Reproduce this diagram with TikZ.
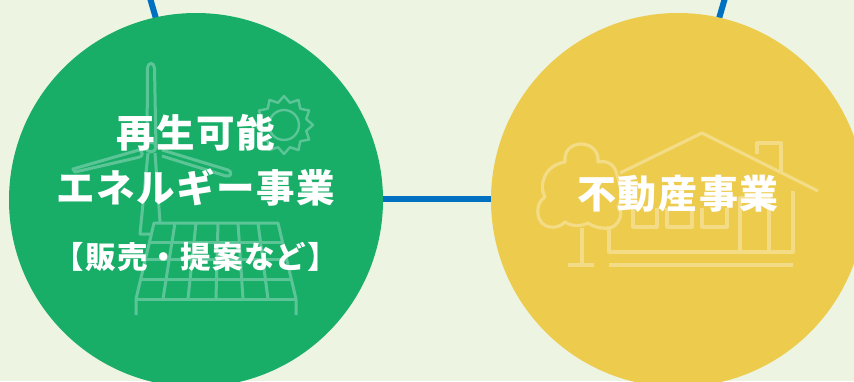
\documentclass[tikz,border=0pt]{standalone}
\usepackage{fontspec}
\newfontfamily\cjk[BoldFont={Noto Sans CJK JP Black},LetterSpace=4]{Noto Sans CJK JP}
\definecolor{bgc}{HTML}{EDF4E2}
\definecolor{greenc}{HTML}{19AE68}
\definecolor{yellowc}{HTML}{ECCB4D}
\definecolor{bluec}{HTML}{0070C0}
\definecolor{gline}{HTML}{5CC597}
\definecolor{yline}{HTML}{F3DC85}
\tikzset{
  disc/.style={circle,inner sep=0pt,minimum size=374pt,draw=none},
  link/.style={draw=bluec,line width=6pt},
  gicon/.style={draw=gline,line width=3pt,line join=round},
  yicon/.style={draw=yline,line width=3.2pt,line join=round},
  title/.style={text=white,inner sep=0pt,font=\cjk\bfseries\fontsize{38.5}{38.5}\selectfont},
  sub/.style={text=white,inner sep=0pt,font=\cjk\bfseries\fontsize{30.5}{30.5}\selectfont}
}
\begin{document}
\begin{tikzpicture}[x=1pt,y=-1pt]
\useasboundingbox (0,0) rectangle (854,381);
\fill[bgc] (0,0) rectangle (854,381);
\coordinate (gtop) at (150,-2);
\coordinate (ytop) at (725,-2);
\coordinate (gend) at (157,22);
\coordinate (yend) at (718,22);
\draw[link] (gtop) -- (gend);
\draw[link] (ytop) -- (yend);
\node[disc,fill=greenc] (green) at (196,200) {};
\node[disc,fill=yellowc] (yellow) at (678,200) {};
\draw[link] (green.east |- 0,199) -- (yellow.west |- 0,199);
% wind turbine
\draw[gicon] (147,147) -- (147.5,68) .. controls (148,62) and (154,62) .. (154.5,68) -- (156,147);
\draw[gicon] (146,148) -- (73,169) -- (75,172) -- (140,157);
\draw[gicon] (140,157) .. controls (143,156) and (143,151) .. (139,150);
\draw[gicon] (162,150) -- (228,170) .. controls (233,172) and (231,177) .. (226,176) -- (162,156);
\draw[gicon] (151,147) circle (5);
\draw[gicon] (148,153) -- (140,234) -- (152,234);
\draw[gicon] (155,153) -- (160,222);
% sun
\begin{scope}[shift={(284,125)}]
\draw[gicon,line width=2.4pt] (0,0) circle (15);
\draw[gicon,line width=2.4pt] (90:29) -- (75:23) -- (60:29) -- (45:23) -- (30:29) -- (15:23) -- (0:29) -- (-15:23) -- (-30:29) -- (-45:23) -- (-60:29) -- (-75:23)
 -- (-90:29) -- (-105:23) -- (-120:29) -- (-135:23) -- (-150:29) -- (-165:23) -- (180:29) -- (165:23) -- (150:29) -- (135:23) -- (120:29) -- (105:23) -- cycle;
\end{scope}
% solar panel
\draw[gicon] (136,315) -- (136,299) -- (154,223) -- (278,223) -- (296,299) -- (296,315);
\draw[gicon] (136,299) -- (296,299);
\draw[gicon] (149.5,242) -- (282.5,242);
\draw[gicon] (145.5,259) -- (286.5,259);
\draw[gicon] (141,279) -- (291,279);
\draw[gicon] (175,223) -- (163,299);
\draw[gicon] (196,223) -- (188,299);
\draw[gicon] (218,223) -- (216,299);
\draw[gicon] (238,223) -- (243,299);
\draw[gicon] (258,223) -- (268,299);
% house
\draw[yicon] (620,173) -- (702,133) -- (818,191);
\draw[yicon] (757,154) -- (757,143) -- (781,143) -- (781,172);
\draw[yicon] (609,226) -- (609,252) -- (793,252) -- (793,191);
\draw[yicon] (740,252) -- (740,198) -- (769,198) -- (769,252);
\draw[yicon] (633,208) -- (633,227) -- (657,227) -- (657,208);
\draw[yicon] (667,208) -- (667,227) -- (692,227) -- (692,208);
\draw[yicon] (702,208) -- (702,227) -- (727,227) -- (727,208);
\draw[yicon] (609,265) -- (793,265);
\draw[yicon] (568,265) -- (594,265);
\draw[yicon] (582,228) -- (582,265);
\draw[yicon] (565,162) .. controls (562,138) and (600,138) .. (598,162)
  .. controls (608,160) and (615,165) .. (617,175)
  .. controls (622,190) and (622,200) .. (618,207)
  .. controls (626,215) and (615,232) .. (603,228)
  .. controls (598,228) and (592,226) .. (588,223)
  .. controls (582,226) and (572,227) .. (565,222)
  .. controls (558,230) and (540,230) .. (538,214)
  .. controls (537,206) and (540,200) .. (545,197)
  .. controls (538,185) and (545,165) .. (565,162) -- cycle;
% text
\node[title] (t1) at (196,133) {再生可能};
\node[title] (t2) at (196,187) {エネルギー事業};
\node[sub] (t3) at (196,257) {【販売・提案など】};
\node[title,font=\cjk\bfseries\fontsize{39}{39}\selectfont] (t4) at (678,194) {不動産事業};
\end{tikzpicture}
\end{document}
